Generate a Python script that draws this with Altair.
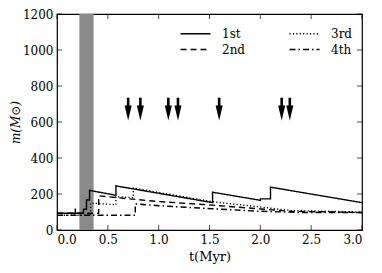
import altair as alt
import pandas as pd

# ---- data ----
s1_t = [0, 0.18, 0.18, 0.18, 0.26, 0.26, 0.29, 0.29, 0.32, 0.32, 0.58, 0.58, 1.53, 1.53, 2.00, 2.00, 2.10, 2.10, 3.0]
s1_m = [93, 93, 120, 93, 93, 115, 115, 167, 167, 220, 193, 245, 152, 210, 165, 173, 173, 238, 152]

s2_t = [0, 0.41, 0.41, 0.58, 1.0, 1.53, 2.0, 2.3, 3.0]
s2_m = [93, 93, 190, 180, 158, 138, 117, 104, 97]

s3_t = [0, 0.33, 0.33, 0.58, 0.58, 0.75, 0.75, 1.53, 2.0, 2.3, 3.0]
s3_m = [82, 82, 150, 140, 185, 180, 233, 157, 128, 108, 100]

s4_t = [0, 0.77, 0.77, 1.0, 1.53, 2.0, 2.4, 3.0]
s4_m = [82, 82, 145, 135, 118, 104, 97, 97]

series_names = ["1st", "2nd", "3rd", "4th"]
legend_order = ["1st", "3rd", "2nd", "4th"]
dashes = {"1st": [1, 0], "2nd": [6, 4], "3rd": [1.2, 2.2], "4th": [6, 3, 1.5, 3]}

band_t = [0.22, 0.36]
arrow_t = [0.70, 0.82, 1.095, 1.19, 1.595, 2.21, 2.29]
arrow_top = 735
arrow_shaft_end = 660
arrow_head = 650

x_ticks = [0.0, 0.5, 1.0, 1.5, 2.0, 2.5, 3.0]
y_ticks = [0, 200, 400, 600, 800, 1000, 1200]

FONT = "DejaVu Serif"

rows = []
for name, ts, ms in zip(series_names, [s1_t, s2_t, s3_t, s4_t], [s1_m, s2_m, s3_m, s4_m]):
    for i, (t, m) in enumerate(zip(ts, ms)):
        rows.append({"series": name, "t": t, "m": m, "idx": i})
lines_df = pd.DataFrame(rows)

band_df = pd.DataFrame({"t0": [band_t[0]], "t1": [band_t[1]]})
arrow_df = pd.DataFrame({"t": arrow_t, "top": [arrow_top] * len(arrow_t),
                         "end": [arrow_shaft_end] * len(arrow_t),
                         "head": [arrow_head] * len(arrow_t)})
xt_df = pd.DataFrame({"t": x_ticks})
yt_df = pd.DataFrame({"m": y_ticks})

xscale = alt.Scale(domain=[0, 3], nice=False, zero=False)
yscale = alt.Scale(domain=[0, 1200], nice=False)

xaxis = alt.Axis(values=x_ticks, format=".1f", title="t(Myr)", ticks=False,
                 domain=False, grid=False, labelPadding=4, titlePadding=5,
                 labelOverlap=False, labelFont=FONT, titleFont=FONT,
                 labelFontSize=12, titleFontSize=13)
yaxis = alt.Axis(values=y_ticks, format="d", title="m(M⊙)", ticks=False,
                 domain=False, grid=False, labelPadding=4, titlePadding=0,
                 labelOverlap=False, titleFontStyle="italic",
                 labelFont=FONT, titleFont=FONT,
                 labelFontSize=12, titleFontSize=12)


def X(field):
    return alt.X(field, scale=xscale, axis=xaxis, title="t(Myr)")


def Y(field):
    return alt.Y(field, scale=yscale, axis=yaxis, title="m(M⊙)")


def XD(v):
    return alt.XDatum(v, scale=xscale, axis=xaxis, title="t(Myr)")


def YD(v):
    return alt.YDatum(v, scale=yscale, axis=yaxis, title="m(M⊙)")


band = alt.Chart(band_df).mark_rect(color="#8a8a8a").encode(
    x=X("t0:Q"), x2="t1:Q")

lines = alt.Chart(lines_df).mark_line(color="black", strokeWidth=1.4).encode(
    x=X("t:Q"), y=Y("m:Q"),
    strokeDash=alt.StrokeDash(
        "series:N",
        scale=alt.Scale(domain=legend_order, range=[dashes[n] for n in legend_order]),
        sort=legend_order,
        legend=alt.Legend(title=None, orient="none", legendX=130, legendY=11,
                          columns=2, symbolType="M-2,0L2,0", symbolSize=225,
                          symbolStrokeWidth=1.4, symbolStrokeColor="black",
                          labelFont=FONT, labelFontSize=12, labelOffset=18,
                          columnPadding=40, rowPadding=1, direction="horizontal")),
    order="idx:Q")

shafts = alt.Chart(arrow_df).mark_rule(color="black", strokeWidth=2.6).encode(
    x=X("t:Q"), y=Y("top:Q"), y2="end:Q")
heads = alt.Chart(arrow_df).mark_point(
    shape="M-0.47,-1L0.47,-1L0,1Z", filled=True, color="black", opacity=1,
    size=225, strokeWidth=0).encode(
    x=X("t:Q"), y=Y("head:Q"))

tick_b = alt.Chart(xt_df).mark_tick(orient="vertical", color="black", size=5, thickness=1).encode(
    x=X("t:Q"), y=YD(0), yOffset=alt.value(-2.5))
tick_t = alt.Chart(xt_df).mark_tick(orient="vertical", color="black", size=5, thickness=1).encode(
    x=X("t:Q"), y=YD(1200), yOffset=alt.value(2.5))
tick_l = alt.Chart(yt_df).mark_tick(orient="horizontal", color="black", size=5, thickness=1).encode(
    y=Y("m:Q"), x=XD(0), xOffset=alt.value(2.5))
tick_r = alt.Chart(yt_df).mark_tick(orient="horizontal", color="black", size=5, thickness=1).encode(
    y=Y("m:Q"), x=XD(3), xOffset=alt.value(-2.5))

chart = alt.layer(band, lines, shafts, heads, tick_b, tick_t, tick_l, tick_r).properties(
    width=305, height=216,
    autosize=alt.AutoSizeParams(type="none"),
    padding={"left": 49, "top": 6, "right": 12, "bottom": 35},
    background="white",
).configure_view(stroke="black", strokeWidth=1.2).configure_axis(
    labelColor="black", titleColor="black", titleFontWeight="normal"
)

chart.save("out.html", embed_options={"renderer": "svg", "actions": False})
